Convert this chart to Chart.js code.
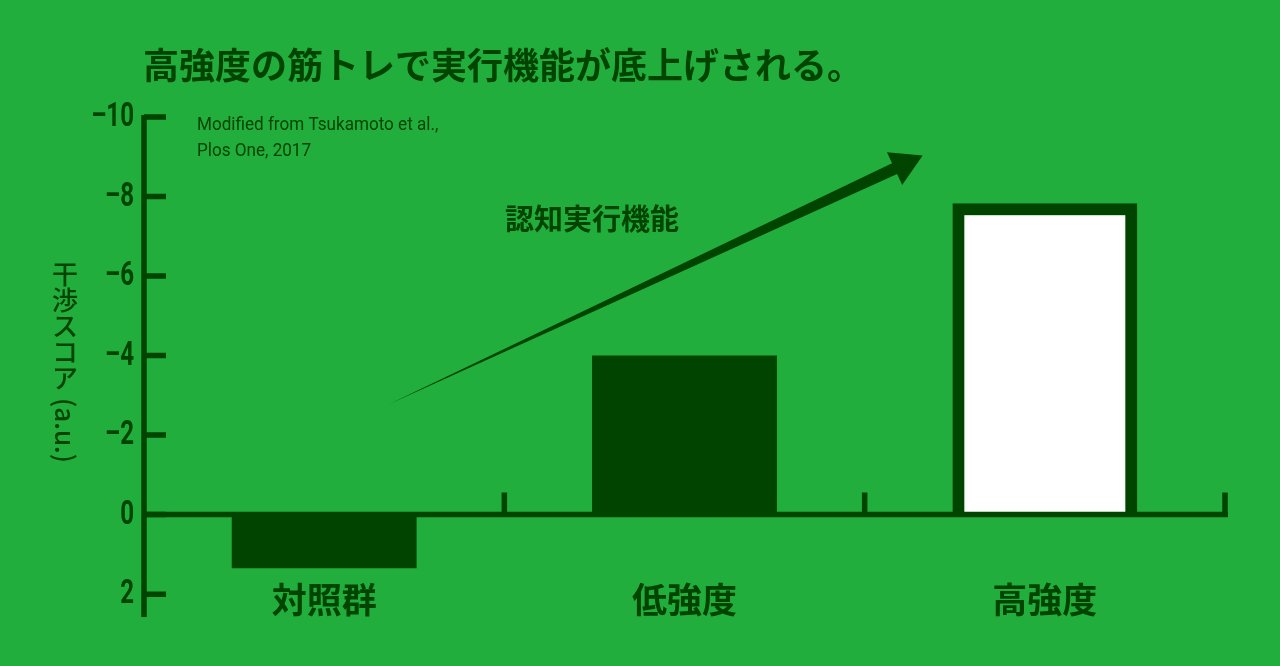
<!DOCTYPE html>
<html lang="ja">
<head>
<meta charset="utf-8">
<title>高強度の筋トレで実行機能が底上げされる。</title>
<script src="https://cdn.jsdelivr.net/npm/chart.js@4/dist/chart.umd.min.js"></script>
<style>
  html, body { margin: 0; padding: 0; background: #22ae3c; }
  canvas { display: block; }
</style>
</head>
<body>
<canvas id="chart" width="1280" height="666"></canvas>
<script>
// Data.
const categories = ["対照群", "低強度", "高強度"];
const scores     = [1.35, -4.0, -7.83];
const yTicks     = [-10, -8, -6, -4, -2, 0, 2];

// Texts
const titleText     = "高強度の筋トレで実行機能が底上げされる。";
const noteLines     = ["Modified from Tsukamoto et al.,", "Plos One, 2017"];
const arrowLabel    = "認知実行機能";
const yTitleUpright = "干渉スコア";
const yTitleRotated = "(a.u.)";

// Arrow ends as [category index, score]
const arrowFrom = [0.178, -2.77];
const arrowTo   = [1.661, -9.03];

const bg     = "#22ae3c";
const dark   = "#004400";
const jpFont = '"Noto Sans CJK JP", "Noto Sans", sans-serif';
const latin  = 'Roboto, "Noto Sans", sans-serif';

// draws text squeezed horizontally (the reference uses a condensed face)
function narrowText(ctx, text, x, y, squeeze) {
   ctx.save();
   ctx.translate(x, y);
   ctx.scale(squeeze, 1);
   ctx.fillText(text, 0, 0);
   ctx.restore();
}

const decor = {
   id: "decor",
   beforeDraw(chart) {
      const ctx = chart.ctx;
      ctx.save();
      ctx.fillStyle = bg;
      ctx.fillRect(0, 0, chart.width, chart.height);
      ctx.restore();
   },
   afterDatasetsDraw(chart) {
      const { ctx, chartArea: area, scales: { x, y } } = chart;
      const zero = y.getPixelForValue(0);
      ctx.save();
      ctx.strokeStyle = dark;
      ctx.fillStyle = dark;
      ctx.lineWidth = 5.5;

      // zero line and y axis line
      ctx.beginPath();
      ctx.moveTo(area.left, zero);
      ctx.lineTo(area.right + 3, zero);
      ctx.moveTo(area.left, area.top);
      ctx.lineTo(area.left, area.bottom + 1);
      ctx.stroke();

      // y tick marks pointing inward, labels on the left
      ctx.beginPath();
      yTicks.forEach(v => {
         const py = y.getPixelForValue(v);
         ctx.moveTo(area.left, py);
         ctx.lineTo(area.left + 22, py);
      });
      ctx.stroke();
      ctx.font = `bold 33px ${latin}`;
      ctx.textAlign = "right";
      ctx.textBaseline = "middle";
      yTicks.forEach(v => {
         narrowText(ctx, String(v).replace("-", "–"), area.left - 10, y.getPixelForValue(v) + 1, 0.73);
      });

      // small marks between categories, on the zero line
      ctx.beginPath();
      categories.forEach((c, i) => {
         const px = (x.getPixelForValue(i) + x.getPixelForValue(i + 1)) / 2;
         ctx.moveTo(px, zero);
         ctx.lineTo(px, zero - 22);
      });
      ctx.stroke();

      // wedge-shaped arrow
      const tx = x.getPixelForValue(arrowFrom[0]), ty = y.getPixelForValue(arrowFrom[1]);
      const hx = x.getPixelForValue(arrowTo[0]),   hy = y.getPixelForValue(arrowTo[1]);
      const len = Math.hypot(hx - tx, hy - ty);
      const ux = (hx - tx) / len, uy = (hy - ty) / len;
      const nx = -uy, ny = ux;
      const headLen = 31, headHalf = 18, shaftHalf = 6;
      const bx = hx - ux * headLen, by = hy - uy * headLen;
      ctx.beginPath();
      ctx.moveTo(tx, ty);
      ctx.lineTo(bx + nx * shaftHalf, by + ny * shaftHalf);
      ctx.lineTo(bx + nx * headHalf, by + ny * headHalf);
      ctx.lineTo(hx, hy);
      ctx.lineTo(bx - nx * headHalf, by - ny * headHalf);
      ctx.lineTo(bx - nx * shaftHalf, by - ny * shaftHalf);
      ctx.closePath();
      ctx.fill();

      // category labels
      ctx.font = `bold 35px ${jpFont}`;
      ctx.textAlign = "center";
      ctx.textBaseline = "middle";
      categories.forEach((c, i) => ctx.fillText(c, x.getPixelForValue(i), 600));

      // arrow label
      ctx.font = `bold 29px ${jpFont}`;
      ctx.fillText(arrowLabel, 592, 219);

      // title
      ctx.font = `bold 36px ${jpFont}`;
      ctx.textAlign = "left";
      ctx.fillText(titleText, 143, 65);

      // source note
      ctx.font = `19px ${latin}`;
      ctx.textBaseline = "alphabetic";
      noteLines.forEach((t, i) => narrowText(ctx, t, 197, 130 + i * 26, 0.9));

      // vertical y axis title
      ctx.font = `500 26px ${jpFont}`;
      ctx.textAlign = "center";
      ctx.textBaseline = "middle";
      [...yTitleUpright].forEach((ch, i) => ctx.fillText(ch, 65, 274 + i * 26));
      ctx.translate(65, 398);
      ctx.rotate(Math.PI / 2);
      ctx.textAlign = "left";
      ctx.fillText(yTitleRotated, 0, 0);
      ctx.restore();
   }
};

new Chart(document.getElementById("chart"), {
   type: "bar",
   data: {
      labels: categories,
      datasets: [{
         data: scores,
         backgroundColor: [dark, dark, "#ffffff"],
         borderColor: dark,
         borderWidth: [0, 0, 12],
         borderSkipped: "start",
         categoryPercentage: 1,
         barPercentage: 0.513
      }]
   },
   options: {
      responsive: false,
      animation: false,
      devicePixelRatio: 1,
      layout: { padding: { top: 115, bottom: 50, left: 0, right: 55 } },
      plugins: {
         legend: { display: false },
         tooltip: { enabled: false },
         title: { display: false }
      },
      scales: {
         x: { display: false },
         y: {
            reverse: true,
            min: -10.05,
            max: 2.55,
            afterBuildTicks: scale => { scale.ticks = yTicks.map(v => ({ value: v })); },
            afterFit: scale => { scale.width = 144; },
            grid: { display: false },
            border: { display: false },
            ticks: { display: false }
         }
      }
   },
   plugins: [decor]
});
</script>
</body>
</html>
